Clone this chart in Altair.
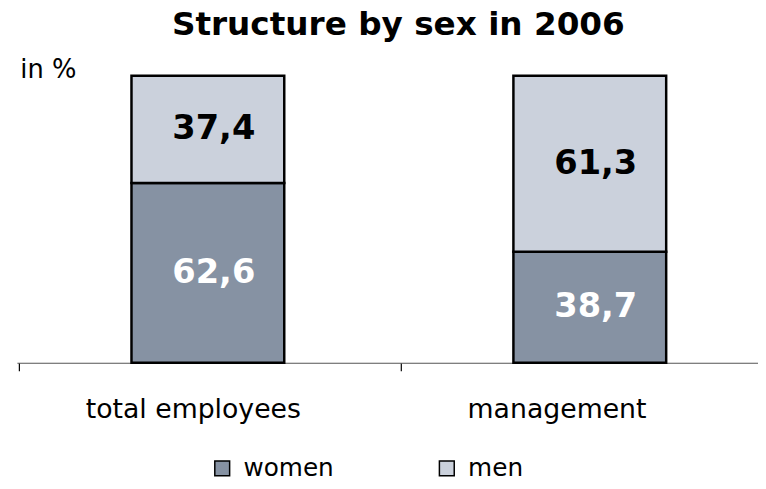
import altair as alt
import pandas as pd

categories = ["total employees", "management"]
sexes = ["women", "men"]
women = [62.6, 38.7]
men = [37.4, 61.3]
colors = ["#8692A3", "#CBD1DC"]

rows = []
for i, c in enumerate(categories):
    rows.append({"category": c, "sex": "women", "value": women[i], "order": 0})
    rows.append({"category": c, "sex": "men", "value": men[i], "order": 1})
df = pd.DataFrame(rows)

FONT = "DejaVu Sans"

x_scale = alt.Scale(range=[0, 772], paddingInner=0.6, paddingOuter=0.3)
x_axis = alt.Axis(
    title=None, labelAngle=0, labelAlign="left", labelOffset=67, labelLimit=400,
    labelFontSize=27, labelFont=FONT, labelColor="black", labelPadding=26,
    tickOffset=-191, tickSize=8, tickColor="black", tickWidth=1.2,
    domainColor="#555555", domainWidth=1.2, grid=False,
)

y_scale = alt.Scale(domain=[0, 100], nice=False)
y_axis = alt.Axis(
    title="in %", titleAngle=0, titleX=3, titleY=-6, titleAlign="left",
    titleBaseline="middle", titleFontSize=26, titleFont=FONT,
    titleFontWeight="normal", titleColor="black",
    labels=False, ticks=False, domain=False, grid=False,
)

bars = alt.Chart(df).mark_bar(stroke="black", strokeWidth=2.5).encode(
    x=alt.X("category:N", sort=categories, scale=x_scale, axis=x_axis),
    y=alt.Y("value:Q", stack="zero", scale=y_scale, axis=y_axis),
    color=alt.Color(
        "sex:N",
        scale=alt.Scale(domain=sexes, range=colors),
        legend=alt.Legend(
            title=None, orient="none", legendX=195, legendY=384,
            direction="horizontal", symbolType="square", symbolSize=225,
            symbolStrokeColor="black", symbolStrokeWidth=1.5, symbolOpacity=1,
            labelFontSize=25, labelFont=FONT, labelColor="black", labelLimit=300,
            columnPadding=101, labelOffset=9,
        ),
    ),
    order=alt.Order("order:Q"),
)

labels = alt.Chart(df).transform_stack(
    stack="value", groupby=["category"], as_=["y0", "y1"],
    sort=[alt.SortField("order", order="ascending")],
).transform_calculate(
    mid="(datum.y0 + datum.y1) / 2",
    label="replace(format(datum.value, '.1f'), '.', ',')",
).mark_text(font=FONT, fontSize=34, fontWeight="bold", dx=6, baseline="middle").encode(
    x=alt.X("category:N", sort=categories, scale=x_scale, axis=x_axis),
    y=alt.Y("mid:Q", scale=y_scale, axis=y_axis),
    text="label:N",
    color=alt.condition("datum.sex == 'women'", alt.value("white"), alt.value("black")),
)

chart = alt.layer(bars, labels).properties(
    width=749,
    height=290,
    autosize=alt.AutoSizeParams(type="none"),
    padding={"left": 9, "top": 66, "right": 0, "bottom": 115},
    title=alt.Title(
        "Structure by sex in 2006", font=FONT, fontSize=33, fontWeight="bold",
        color="black", dx=11, offset=15, frame="group",
    ),
).configure_view(stroke=None)

chart.save("out.html", embed_options={"renderer": "svg", "actions": False})
